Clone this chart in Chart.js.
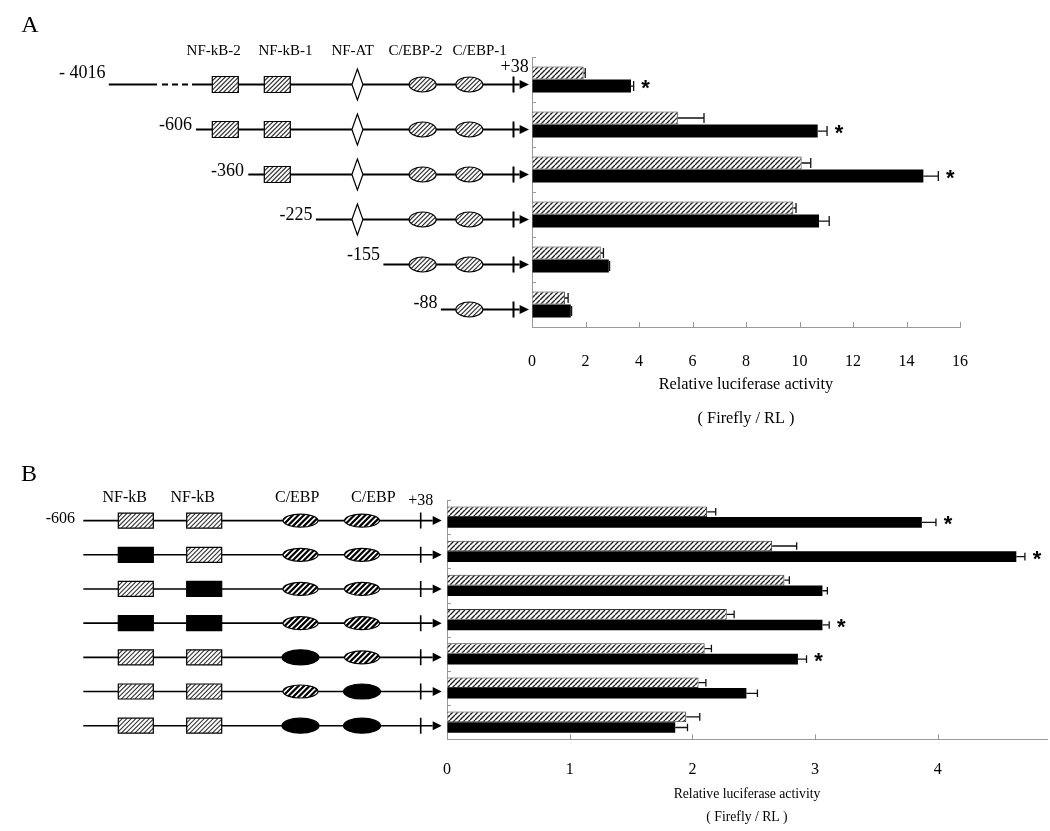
<!DOCTYPE html>
<html>
<head>
<meta charset="utf-8">
<script src="https://cdn.jsdelivr.net/npm/chart.js@4.4.1/dist/chart.umd.min.js"></script>
<style>
  html, body { margin: 0; padding: 0; background: #fff; }
  #wrap { position: relative; width: 1050px; height: 831px; }
  .box { position: absolute; left: 0; width: 1050px; }
</style>
</head>
<body>
<div id="wrap">
  <div class="box" style="top:0;height:450px"><canvas id="chartA" width="1050" height="450"></canvas></div>
  <div class="box" style="top:450px;height:381px"><canvas id="chartB" width="1050" height="381"></canvas></div>
</div>
<script>
// Panel A: deletion constructs
const rowsA = ['- 4016', '-606', '-360', '-225', '-155', '-88'];
const ctrlA = [1.93, 5.45, 10.08, 9.77, 2.57, 1.23];
const ctrlErrA = [0.06, 0.98, 0.34, 0.10, 0.10, 0.12];
const stimA = [3.70, 10.68, 14.63, 10.73, 2.87, 1.45];
const stimErrA = [0.10, 0.35, 0.56, 0.38, 0.03, 0.03];
const sigA = [true, true, true, false, false, false];
const sitesA = ['NF-kB-2', 'NF-kB-1', 'NF-AT', 'C/EBP-2', 'C/EBP-1'];

// Panel B: site mutants of the -606 construct (1 = mutated site)
const rowsB = ['-606', 'mNF-kB-2', 'mNF-kB-1', 'mNF-kB-1/2', 'mC/EBP-2', 'mC/EBP-1', 'mC/EBP-1/2'];
const mutB = [[0,0,0,0], [1,0,0,0], [0,1,0,0], [1,1,0,0], [0,0,1,0], [0,0,0,1], [0,0,1,1]];
const ctrlB = [2.12, 2.65, 2.75, 2.28, 2.10, 2.05, 1.95];
const ctrlErrB = [0.07, 0.20, 0.04, 0.06, 0.055, 0.06, 0.11];
const stimB = [3.87, 4.64, 3.06, 3.06, 2.86, 2.44, 1.86];
const stimErrB = [0.115, 0.07, 0.04, 0.055, 0.07, 0.09, 0.10];
const sigB = [true, true, false, true, true, false, false];
const sitesB = ['NF-kB', 'NF-kB', 'C/EBP', 'C/EBP'];

const SERIF = "'Liberation Serif', 'Times New Roman', serif";

function makeHatch(step, lw, color) {
  const c = document.createElement('canvas');
  c.width = step; c.height = step;
  const g = c.getContext('2d');
  g.fillStyle = '#fff';
  g.fillRect(0, 0, step, step);
  g.strokeStyle = color;
  g.lineWidth = lw;
  g.beginPath();
  for (let k = -1; k <= 1; k++) {
    g.moveTo(k * step, step);
    g.lineTo(k * step + step, 0);
  }
  g.stroke();
  return g.createPattern(c, 'repeat');
}
const hatch = makeHatch(5, 1.4, '#222');

function stripes(ctx, x0, y0, w, h, step, lw, color) {
  ctx.strokeStyle = color;
  ctx.lineWidth = lw;
  ctx.beginPath();
  for (let s = x0 - h; s < x0 + w + h; s += step) {
    ctx.moveTo(s, y0 + h);
    ctx.lineTo(s + h, y0);
  }
  ctx.stroke();
}

// shape: 'rect' | 'ell' | 'dia'
function site(ctx, shape, cx, cy, w, h, filled, st) {
  const path = () => {
    ctx.beginPath();
    if (shape === 'rect') ctx.rect(cx - w / 2, cy - h / 2, w, h);
    else if (shape === 'ell') ctx.ellipse(cx, cy, w / 2, h / 2, 0, 0, Math.PI * 2);
    else { ctx.moveTo(cx, cy - h / 2); ctx.lineTo(cx + w / 2, cy); ctx.lineTo(cx, cy + h / 2); ctx.lineTo(cx - w / 2, cy); ctx.closePath(); }
  };
  ctx.save();
  path();
  ctx.fillStyle = filled ? '#000' : '#fff';
  ctx.fill();
  if (!filled && st) {
    ctx.save();
    ctx.clip();
    stripes(ctx, cx - w / 2, cy - h / 2, w, h, st.step, st.lw, st.color);
    ctx.restore();
  }
  path();
  ctx.lineWidth = 1.2;
  ctx.strokeStyle = '#000';
  ctx.stroke();
  ctx.restore();
}

function backbone(ctx, x1, tickX, baseX, tipX, y, lw, tickH, headH) {
  ctx.save();
  ctx.strokeStyle = '#000';
  ctx.fillStyle = '#000';
  ctx.lineWidth = lw;
  ctx.beginPath();
  ctx.moveTo(x1, y); ctx.lineTo(baseX, y);
  ctx.moveTo(tickX, y - tickH); ctx.lineTo(tickX, y + tickH);
  ctx.stroke();
  ctx.beginPath();
  ctx.moveTo(baseX, y - headH); ctx.lineTo(tipX, y); ctx.lineTo(baseX, y + headH);
  ctx.closePath();
  ctx.fill();
  ctx.restore();
}

function label(ctx, txt, x, y, size, align) {
  ctx.font = size + 'px ' + SERIF;
  ctx.fillStyle = '#000';
  ctx.textAlign = align || 'center';
  ctx.textBaseline = 'middle';
  ctx.fillText(txt, x, y);
}

const errorBars = {
  id: 'errorBars',
  afterDatasetsDraw(chart) {
    const ctx = chart.ctx, xs = chart.scales.x;
    ctx.save();
    chart.data.datasets.forEach((ds, di) => {
      chart.getDatasetMeta(di).data.forEach((bar, i) => {
        const end = xs.getPixelForValue(ds.data[i] + ds.errors[i]);
        const half = bar.height / 2 - 1.5;
        ctx.strokeStyle = '#111';
        ctx.lineWidth = 1.3;
        ctx.beginPath();
        ctx.moveTo(bar.x, bar.y); ctx.lineTo(end, bar.y);
        ctx.moveTo(end, bar.y - half); ctx.lineTo(end, bar.y + half);
        ctx.stroke();
        if (ds.stars && ds.stars[i]) {
          ctx.font = "bold 22px 'Liberation Sans', Arial, sans-serif";
          ctx.fillStyle = '#000';
          ctx.textAlign = 'center';
          ctx.textBaseline = 'alphabetic';
          ctx.fillText('*', end + 12, bar.y + 9);
        }
      });
    });
    ctx.restore();
  }
};

const innerTicks = {
  id: 'innerTicks',
  afterDraw(chart) {
    const { ctx, chartArea: a, scales: { x, y } } = chart;
    ctx.save();
    ctx.strokeStyle = '#999';
    ctx.lineWidth = 1;
    ctx.beginPath();
    x.ticks.forEach((t, i) => {
      if (i === 0) return;
      const px = Math.round(x.getPixelForTick(i)) + 0.5;
      ctx.moveTo(px, a.bottom); ctx.lineTo(px, a.bottom - 5);
    });
    const n = y.ticks.length, band = (a.bottom - a.top) / n;
    for (let k = 0; k < n; k++) {
      const py = Math.round(a.top + k * band) + 0.5;
      ctx.moveTo(a.left, py); ctx.lineTo(a.left + 4, py);
    }
    ctx.stroke();
    ctx.restore();
  }
};

const diagramA = {
  id: 'diagramA',
  afterDraw(chart) {
    const ctx = chart.ctx, ys = chart.scales.y;
    const siteX = [225.3, 277.3, 357.4, 422.6, 469.3];
    const nameX = [213.7, 285.5, 352.7, 415.5, 479.7];
    const startX = [108.8, 196, 248.3, 315.9, 383.4, 440.9];
    const nameEnd = [105.4, 191.9, 243.9, 312.5, 380, 437.5];
    const nameDy = [-11, -4, -3.5, -4, -9, -6];
    const hs = { step: 4.5, lw: 1.1, color: '#333' };
    ctx.save();
    label(ctx, 'A', 30, 26, 24);
    sitesA.forEach((s, k) => label(ctx, s, nameX[k], 51, 15));
    label(ctx, '+38', 514.7, 67, 18);
    rowsA.forEach((name, r) => {
      const y = ys.getPixelForValue(r) + 5;
      backbone(ctx, startX[r], 513.5, 519.6, 529, y, 2, 8, 4.5);
      if (r === 0) {
        // dashed gap for the far upstream region
        ctx.fillStyle = '#fff';
        ctx.fillRect(157, y - 2, 39, 4);
        ctx.strokeStyle = '#000';
        ctx.lineWidth = 2;
        ctx.setLineDash([6, 4]);
        ctx.beginPath(); ctx.moveTo(162, y); ctx.lineTo(196, y); ctx.stroke();
        ctx.setLineDash([]);
      }
      label(ctx, name, nameEnd[r], y + nameDy[r], 18, 'right');
      siteX.forEach((sx, k) => {
        if (sx - 14 < startX[r]) return;
        if (k < 2) site(ctx, 'rect', sx, y, 26, 16, false, hs);
        else if (k === 2) site(ctx, 'dia', sx, y, 11, 31, false, null);
        else site(ctx, 'ell', sx, y, 27, 15, false, hs);
      });
    });
    ctx.restore();
  }
};

const diagramB = {
  id: 'diagramB',
  afterDraw(chart) {
    const ctx = chart.ctx, ys = chart.scales.y;
    const siteX = [135.8, 204.2, 300.5, 362];
    const nameX = [124.7, 192.7, 297.2, 373.3];
    const rectSt = { step: 4.5, lw: 1.1, color: '#333' };
    const ellSt = { step: 5.5, lw: 2.2, color: '#000' };
    ctx.save();
    label(ctx, 'B', 29, 25, 24);
    sitesB.forEach((s, k) => label(ctx, s, nameX[k], 47.3, 16));
    label(ctx, '+38', 420.8, 50.7, 16);
    rowsB.forEach((name, r) => {
      const y = ys.getPixelForValue(r) + 3.5;
      backbone(ctx, 83.3, 420.7, 432.7, 441.7, y, 1.6, 8, 4.5);
      if (r === 0) label(ctx, name, 75, y - 1.5, 16, 'right');
      siteX.forEach((sx, k) => {
        const mut = mutB[r][k] === 1;
        if (k < 2) site(ctx, 'rect', sx, y, 35, 15, mut, rectSt);
        else site(ctx, 'ell', sx, y, mut ? 37 : 35, mut ? 15 : 13, mut, ellSt);
      });
    });
    ctx.restore();
  }
};

function barChart(id, rows, ctrl, ctrlErr, stim, stimErr, sig, cfg) {
  return new Chart(document.getElementById(id), {
    type: 'bar',
    data: {
      labels: rows,
      datasets: [
        { label: 'Control', data: ctrl, errors: ctrlErr, backgroundColor: hatch, borderColor: '#333', borderWidth: 1 },
        { label: 'Stimulated', data: stim, errors: stimErr, stars: sig, backgroundColor: '#000', borderColor: '#000', borderWidth: 0 }
      ]
    },
    options: {
      indexAxis: 'y',
      responsive: false,
      animation: false,
      layout: { padding: cfg.padding },
      datasets: { bar: { categoryPercentage: cfg.catPct, barPercentage: 1 } },
      plugins: { legend: { display: false }, tooltip: { enabled: false } },
      scales: {
        y: {
          ticks: { display: false },
          grid: { display: true, drawOnChartArea: false, drawTicks: false },
          border: { display: true, color: '#999', width: 1 }
        },
        x: {
          min: 0,
          max: cfg.max,
          afterBuildTicks: (s) => { s.ticks = s.ticks.filter(t => cfg.ticks.includes(t.value)); },
          ticks: { stepSize: cfg.step, padding: cfg.tickPad, color: '#000', font: { family: SERIF, size: 16 } },
          grid: { display: true, drawOnChartArea: false, drawTicks: false },
          border: { display: true, color: '#999', width: 1 },
          title: {
            display: true,
            text: ['Relative luciferase activity', '( Firefly / RL )'],
            color: '#000',
            font: { family: SERIF, size: cfg.titleSize, lineHeight: cfg.titleLine },
            // the scale reserves the tick padding twice, so take it back here
            padding: { top: cfg.titleTop - cfg.tickPad, bottom: 0 }
          }
        }
      }
    },
    plugins: [errorBars, innerTicks, cfg.diagram]
  });
}

const ticksA = [0, 2, 4, 6, 8, 10, 12, 14, 16];
const ticksB = [0, 1, 2, 3, 4];

barChart('chartA', rowsA, ctrlA, ctrlErrA, stimA, stimErrA, sigA, {
  padding: { left: 532, right: 90, top: 57, bottom: 14.4 },
  catPct: 0.58, max: 16, step: 2, ticks: ticksA, tickPad: 25.4,
  titleSize: 16.3, titleLine: '34px', titleTop: -4, diagram: diagramA
});

barChart('chartB', rowsB, ctrlB, ctrlErrB, stimB, stimErrB, sigB, {
  padding: { left: 447, right: 3, top: 50, bottom: 2.4 },
  catPct: 0.62, max: 4.89, step: 1, ticks: ticksB, tickPad: 21.1,
  titleSize: 13.7, titleLine: '23px', titleTop: 3, diagram: diagramB
});
</script>
</body>
</html>
